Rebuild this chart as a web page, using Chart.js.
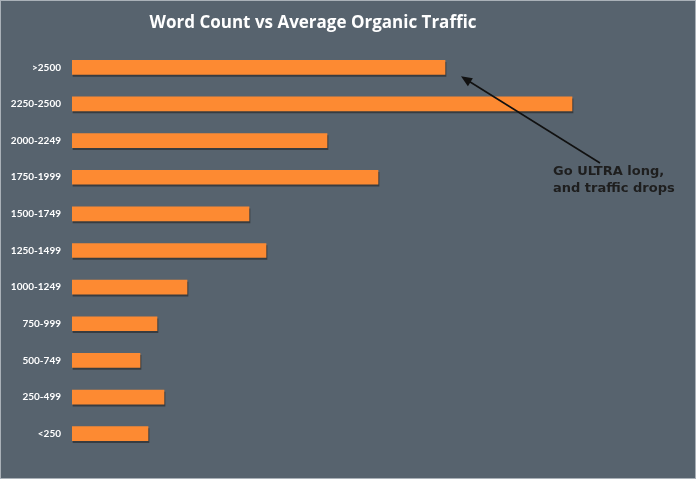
<!DOCTYPE html>
<html>
<head>
<meta charset="utf-8">
<script src="https://cdn.jsdelivr.net/npm/chart.js@4"></script>
<style>
  html, body { margin: 0; padding: 0; background: #57636e; }
  #wrap { width: 696px; height: 479px; position: relative; }
</style>
</head>
<body>
<div id="wrap"><canvas id="chart" width="696" height="479"></canvas></div>
<script>
// word count buckets, top to bottom
const categories = ['>2500', '2250-2500', '2000-2249', '1750-1999', '1500-1749', '1250-1499',
    '1000-1249', '750-999', '500-749', '250-499', '<250'];
// relative average organic traffic
const traffic = [373, 500, 255, 306, 177, 194, 115, 85, 68, 92, 76];
const xMax = 620;

const chartTitle = 'Word Count vs Average Organic Traffic';
const noteLines = ['Go ULTRA long,', 'and traffic drops'];

const bgPlugin = {
    id: 'bg',
    beforeDraw(chart) {
        const c = chart.ctx;
        c.save();
        c.fillStyle = '#57636e';
        c.fillRect(0, 0, chart.width, chart.height);
        c.strokeStyle = '#aab1b8';
        c.lineWidth = 1;
        c.strokeRect(0.5, 0.5, chart.width - 1, chart.height - 1);
        c.restore();
    }
};

// dark drop shadow under bars
const shadowPlugin = {
    id: 'barShadow',
    beforeDatasetsDraw(chart) {
        chart.ctx.save();
        chart.ctx.shadowColor = 'rgba(30,30,30,0.55)';
        chart.ctx.shadowOffsetY = 2;
        chart.ctx.shadowOffsetX = 1;
        chart.ctx.shadowBlur = 0;
    },
    afterDatasetsDraw(chart) {
        chart.ctx.restore();
    }
};

const notePlugin = {
    id: 'note',
    afterDraw(chart) {
        const c = chart.ctx;
        const xs = chart.scales.x, ys = chart.scales.y;
        c.save();
        // title
        c.fillStyle = '#ffffff';
        c.font = 'bold 17px "Open Sans"';
        c.textAlign = 'center';
        c.textBaseline = 'middle';
        c.fillText(chartTitle, 313, 23);

        // annotation text
        c.fillStyle = '#1e1e1e';
        c.font = 'bold 13px "DejaVu Sans"';
        c.textAlign = 'left';
        c.fillText(noteLines[0], 553, 172);
        c.fillText(noteLines[1], 553, 189);

        // arrow pointing to the >2500 bar
        const tipX = xs.getPixelForValue(traffic[0]) + 16;
        const tipY = ys.getPixelForValue(0) + 9;
        const tailX = 600, tailY = 163;
        const ang = Math.atan2(tipY - tailY, tipX - tailX);
        c.strokeStyle = '#111';
        c.fillStyle = '#111';
        c.lineWidth = 1.6;
        c.beginPath();
        c.moveTo(tailX, tailY);
        c.lineTo(tipX - 8 * Math.cos(ang), tipY - 8 * Math.sin(ang));
        c.stroke();
        c.beginPath();
        c.moveTo(tipX, tipY);
        c.lineTo(tipX - 12 * Math.cos(ang - 0.4), tipY - 12 * Math.sin(ang - 0.4));
        c.lineTo(tipX - 12 * Math.cos(ang + 0.4), tipY - 12 * Math.sin(ang + 0.4));
        c.closePath();
        c.fill();
        c.restore();
    }
};

new Chart(document.getElementById('chart'), {
    type: 'bar',
    data: {
        labels: categories,
        datasets: [{
            label: 'Average Organic Traffic',
            data: traffic,
            backgroundColor: '#fd8a32',
            barThickness: 14
        }]
    },
    options: {
        indexAxis: 'y',
        responsive: false,
        animation: false,
        layout: { padding: { top: 49, bottom: 27, left: 0, right: 4 } },
        plugins: {
            legend: { display: false },
            title: { display: false },
            tooltip: { enabled: false }
        },
        scales: {
            x: {
                display: false,
                min: 0,
                max: xMax
            },
            y: {
                grid: { display: false, drawTicks: false },
                border: { display: false },
                afterFit: function (scale) { scale.width = 72; },
                ticks: {
                    color: '#ffffff',
                    padding: 11,
                    font: { family: 'Lato', size: 10, weight: 'bold' }
                }
            }
        }
    },
    plugins: [bgPlugin, shadowPlugin, notePlugin]
});
</script>
</body>
</html>
